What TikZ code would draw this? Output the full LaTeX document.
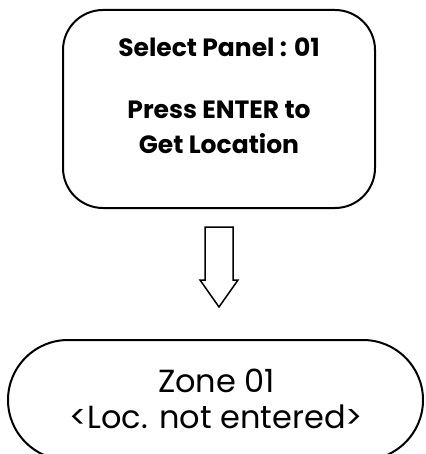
\documentclass[tikz,border=0pt]{standalone}
\usepackage{fontspec}
\setmainfont{Poppins}
\usetikzlibrary{positioning}

\begin{document}
\begin{tikzpicture}[x=1pt,y=-1pt,
    screen/.style={draw,line width=2pt,rounded corners=40pt,
      minimum width=312pt,minimum height=198pt,inner sep=0pt},
    result/.style={draw,line width=2pt,rounded corners=60pt,
      minimum width=415pt,minimum height=120pt,inner sep=0pt},
    blockarrow/.style={draw,line width=1.5pt,line join=miter},
    boldtext/.style={font=\fontsize{25}{35}\selectfont\bfseries,align=center},
    plaintext/.style={font=\fontsize{32}{36}\selectfont,align=center}]
  \useasboundingbox (0,0) rectangle (425,454);
  \node[screen] (panel) at (219,109) {};
  \node[boldtext] (panel text) at (219,96) {Select Panel : 01\\[27pt]Press ENTER to\\Get Location};
  \node[result] (zone) at (215.5,400) {};
  \node[plaintext] (zone text) at (216.5,399) {Zone 01\\{<}Loc. not entered{>}};
  % hollow arrow from the panel down to the zone
  \coordinate (arrow top) at (219,227);
  \draw[blockarrow] (arrow top) ++(-14,0) -- ++(0,53) -- ++(-5,0) -- (219,307)
    -- (238,280) -- ++(-5,0) -- ++(0,-53) -- cycle;
\end{tikzpicture}
\end{document}
